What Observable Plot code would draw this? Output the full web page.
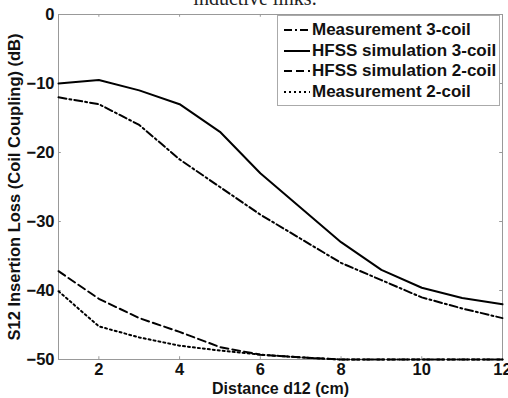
<!DOCTYPE html>
<html>
<head>
<meta charset="utf-8">
<script src="https://cdn.jsdelivr.net/npm/d3@7"></script>
<script src="https://cdn.jsdelivr.net/npm/@observablehq/plot@0.6"></script>
<style>
  html, body { margin: 0; padding: 0; background: #fff; }
  #wrap { position: relative; width: 508px; height: 398px; overflow: hidden; }
  #title { position: absolute; left: 0; width: 510px; top: -13px; text-align: center;
    font-family: "Liberation Serif", "DejaVu Serif", serif; font-size: 20px; color: #222; }
  #legend { position: absolute; left: 277px; top: 15px; width: 221px; height: 89px;
    border: 1px solid #aaa; background: #fff; font-family: "Liberation Sans", Arial, sans-serif;
    font-weight: bold; font-size: 17px; color: #111; }
  .row { position: absolute; left: 5px; height: 20px; display: flex; align-items: center; white-space: nowrap; }
  .row svg { margin-right: 2px; }
</style>
</head>
<body>
<div id="wrap">
  <div id="chart"></div>
  <div id="title">inductive links.</div>
  <div id="legend"></div>
</div>
<script>
const distance = [1, 2, 3, 4, 5, 6, 7, 8, 9, 10, 11, 12];
const meas3 = [-12, -13, -16, -21, -25, -29, -32.5, -36, -38.5, -41, -42.6, -44];
const hfss3 = [-10, -9.5, -11, -13, -17, -23, -28, -33, -37, -39.6, -41.1, -42];
const hfss2 = [-37.2, -41.2, -44, -46, -48.2, -49.3, -49.7, -50, -50, -50, -50, -50];
const meas2 = [-40.1, -45.2, -46.8, -48, -48.7, -49.3, -49.7, -50, -50, -50, -50, -50];
const seriesNames = ["Measurement 3-coil", "HFSS simulation 3-coil", "HFSS simulation 2-coil", "Measurement 2-coil"];
const seriesValues = [meas3, hfss3, hfss2, meas2];
const dashes = ["8,3,2,3", null, "8,4", "2,3"];
const xTicks = [2, 4, 6, 8, 10, 12];
const yTicks = [0, -10, -20, -30, -40, -50];

const data = [];
seriesNames.forEach((s, i) => distance.forEach((d, j) => data.push({series: s, x: d, y: seriesValues[i][j]})));

const lineMarks = seriesNames.map((s, i) =>
  Plot.line(data.filter(d => d.series === s), {x: "x", y: "y", stroke: "#000", strokeWidth: 2,
    strokeDasharray: dashes[i] || undefined})
);

const chart = Plot.plot({
  width: 508, height: 398,
  marginLeft: 58, marginRight: 6, marginTop: 14, marginBottom: 39,
  style: {fontFamily: "Liberation Sans, Arial, sans-serif", fontWeight: "bold", fontSize: "16px", color: "#111", background: "transparent"},
  x: {domain: [1, 12]},
  y: {domain: [-50, 0]},
  marks: [
    Plot.frame({stroke: "#999", strokeWidth: 1}),
    Plot.ruleX(xTicks, {x: d => d, y1: -50, y2: -49.6, stroke: "#999"}),
    Plot.ruleX(xTicks, {x: d => d, y1: 0, y2: -0.4, stroke: "#999"}),
    Plot.ruleY(yTicks, {y: d => d, x1: 1, x2: 1.07, stroke: "#999"}),
    Plot.ruleY(yTicks, {y: d => d, x1: 12, x2: 11.93, stroke: "#999"}),
    Plot.axisX({ticks: xTicks, tickSize: 0, tickPadding: 4, label: null, fontSize: 16.5}),
    Plot.axisY({ticks: yTicks, tickSize: 0, tickPadding: 4, label: null, fontSize: 16.5}),
    ...lineMarks,
    Plot.text(["Distance d12 (cm)"], {frameAnchor: "bottom", dy: 29, lineAnchor: "middle", textAnchor: "middle", fontSize: 16, fontWeight: "bold"}),
    Plot.text(["S12 Insertion Loss (Coil Coupling) (dB)"], {frameAnchor: "left", dx: -44, rotate: -90, textAnchor: "middle", lineAnchor: "middle", fontSize: 16.5, fontWeight: "bold"})
  ]
});
document.getElementById("chart").appendChild(chart);

const legend = document.getElementById("legend");
seriesNames.forEach((s, i) => {
  const row = document.createElement("div");
  row.className = "row";
  row.style.top = (4 + i * 20.5) + "px";
  const dash = dashes[i] ? `stroke-dasharray="${dashes[i]}"` : "";
  row.innerHTML = `<svg width="27" height="10"><line x1="1" y1="5" x2="27" y2="5" stroke="#000" stroke-width="2" ${dash}/></svg><span>${s}</span>`;
  legend.appendChild(row);
});
</script>
</body>
</html>
